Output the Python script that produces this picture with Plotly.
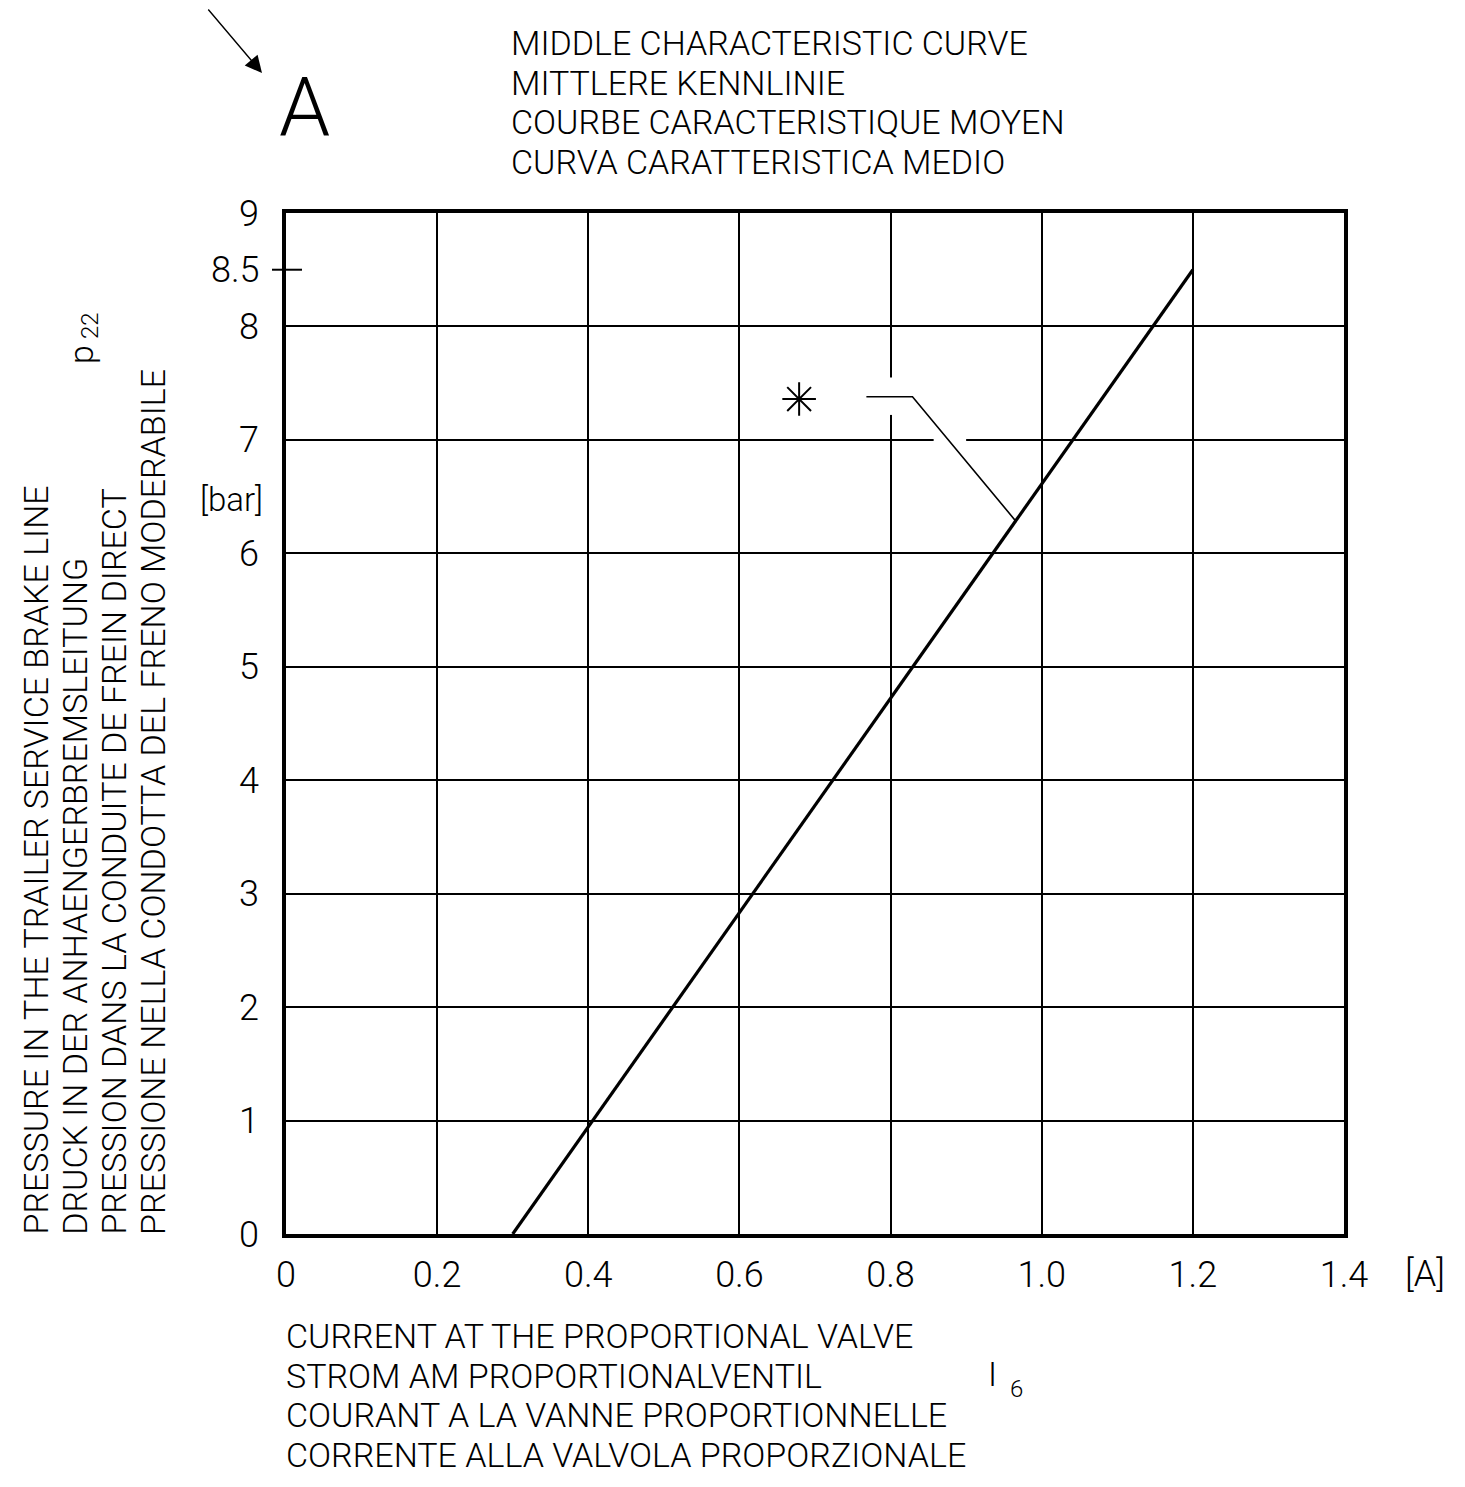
import plotly.graph_objects as go

# ---- data ----
current_A = [0.3, 1.2]          # characteristic line endpoints (x)
pressure_bar = [0.0, 8.5]       # characteristic line endpoints (y)

x_tickvals = [0, 0.2, 0.4, 0.6, 0.8, 1.0, 1.2, 1.4]
x_ticktext = ["0", "0.2", "0.4", "0.6", "0.8", "1.0", "1.2", "1.4"]
y_tickvals = [0, 1, 2, 3, 4, 5, 6, 7, 8, 9]
y_ticktext = ["0", "1", "2", "3", "4", "5", "6", "7", "8", "9"]
extra_y_tick = 8.5

star_x = [0.679]
star_y = [7.36]
leader_x = [0.768, 0.829, 0.965]
leader_y = [7.38, 7.38, 6.29]

title_lines = ["MIDDLE CHARACTERISTIC CURVE", "MITTLERE KENNLINIE",
               "COURBE CARACTERISTIQUE MOYEN", "CURVA CARATTERISTICA MEDIO"]
xtitle_lines = ["CURRENT AT THE PROPORTIONAL VALVE", "STROM AM PROPORTIONALVENTIL",
                "COURANT A LA VANNE PROPORTIONNELLE", "CORRENTE ALLA VALVOLA PROPORZIONALE"]
ytitle_lines = ["PRESSURE IN THE TRAILER SERVICE BRAKE LINE", "DRUCK IN DER ANHAENGERBREMSLEITUNG",
                "PRESSION DANS LA CONDUITE DE FREIN DIRECT", "PRESSIONE NELLA CONDOTTA DEL FRENO MODERABILE"]

OFF = 8                      # browser body margin
W, H = 1465 - 2 * OFF, 1487 - 2 * OFF
L, R, T, B = 286, 1344, 213, 1234   # plot area in page pixels
FONT = "Roboto, sans-serif"
FS = 34
WT = 300


def px(xp):
    return (xp - L) / (R - L)


def py(yp):
    return (B - yp) / (B - T)


def f(size=FS):
    return dict(family=FONT, size=size, color="black", weight=WT)


fig = go.Figure()
fig.add_trace(go.Scatter(x=current_A, y=pressure_bar, mode="lines",
                         line=dict(color="black", width=3.2), hoverinfo="skip"))
fig.add_trace(go.Scatter(x=leader_x, y=leader_y, mode="lines",
                         line=dict(color="black", width=1.6), hoverinfo="skip"))
fig.add_trace(go.Scatter(x=star_x, y=star_y, mode="markers",
                         marker=dict(symbol="asterisk-open", size=28, color="black",
                                     line=dict(color="black", width=2)), hoverinfo="skip"))

ann = []
for i, t in enumerate(title_lines):
    ann.append(dict(x=px(509), y=py(43 + i * 39.5), xref="paper", yref="paper", text=t,
                    showarrow=False, xanchor="left", yanchor="middle", font=f()))
for i, t in enumerate(xtitle_lines):
    ann.append(dict(x=px(284), y=py(1336 + i * 39.5), xref="paper", yref="paper", text=t,
                    showarrow=False, xanchor="left", yanchor="middle", font=f()))
for i, t in enumerate(ytitle_lines):
    ann.append(dict(x=px(35 + i * 39.3), y=py(1237), xref="paper", yref="paper", text=t,
                    showarrow=False, xanchor="center", yanchor="bottom", textangle=-90, font=f()))
ann.append(dict(x=px(81), y=py(355), xref="paper", yref="paper", text="p", showarrow=False,
                xanchor="center", yanchor="middle", textangle=-90, font=f()))
ann.append(dict(x=px(90), y=py(326), xref="paper", yref="paper", text="22", showarrow=False,
                xanchor="center", yanchor="middle", textangle=-90, font=f(24)))
ann.append(dict(x=px(992), y=py(1374), xref="paper", yref="paper", text="I", showarrow=False,
                xanchor="center", yanchor="middle", font=f()))
ann.append(dict(x=px(1016), y=py(1389), xref="paper", yref="paper", text="6", showarrow=False,
                xanchor="center", yanchor="middle", font=f(24)))
ann.append(dict(x=px(1425), y=py(1274), xref="paper", yref="paper", text="[A]", showarrow=False,
                xanchor="center", yanchor="middle", font=f(36)))
ann.append(dict(x=px(231), y=py(499), xref="paper", yref="paper", text="[bar]", showarrow=False,
                xanchor="center", yanchor="middle", font=f(33)))
ann.append(dict(x=0, y=extra_y_tick, xref="paper", yref="y", text="8.5", showarrow=False,
                xanchor="right", yanchor="middle", xshift=-24, font=f(36)))
ann.append(dict(x=px(304), y=py(107), xref="paper", yref="paper", text="A", showarrow=False,
                xanchor="center", yanchor="middle", font=f(82)))
ann.append(dict(x=px(262), y=py(73), xref="paper", yref="paper", text="", showarrow=True,
                ax=-55, ay=-90, arrowhead=2, arrowsize=2.4, arrowwidth=1.4,
                arrowcolor="black", standoff=0))

shapes = [
    dict(type="rect", xref="x", yref="y", x0=0.785, x1=0.815, y0=7.22, y1=7.55,
         fillcolor="white", line=dict(width=0), layer="between"),
    dict(type="rect", xref="x", yref="y", x0=0.857, x1=0.900, y0=6.96, y1=7.04,
         fillcolor="white", line=dict(width=0), layer="between"),
    dict(type="line", xref="paper", yref="y", x0=px(272), x1=px(302),
         y0=extra_y_tick, y1=extra_y_tick, line=dict(color="black", width=2)),
]

fig.update_layout(
    width=W, height=H,
    margin=dict(l=L - OFF, r=W - (R - OFF), t=T - OFF, b=H - (B - OFF), pad=0),
    paper_bgcolor="white", plot_bgcolor="white",
    showlegend=False,
    annotations=ann, shapes=shapes,
    font=f(),
)
fig.update_xaxes(range=[0, 1.4], tickvals=x_tickvals, ticktext=x_ticktext,
                 showgrid=True, gridcolor="black", gridwidth=1.6,
                 showline=True, linecolor="black", linewidth=3.5, mirror=True,
                 zeroline=False, ticks="", ticklabelstandoff=6, tickfont=f(36))
fig.update_yaxes(range=[0, 9], tickvals=y_tickvals, ticktext=y_ticktext,
                 showgrid=True, gridcolor="black", gridwidth=1.6,
                 showline=True, linecolor="black", linewidth=3.5, mirror=True,
                 zeroline=False, ticks="", ticklabelstandoff=16, tickfont=f(36))

fig.write_html("out.html")
